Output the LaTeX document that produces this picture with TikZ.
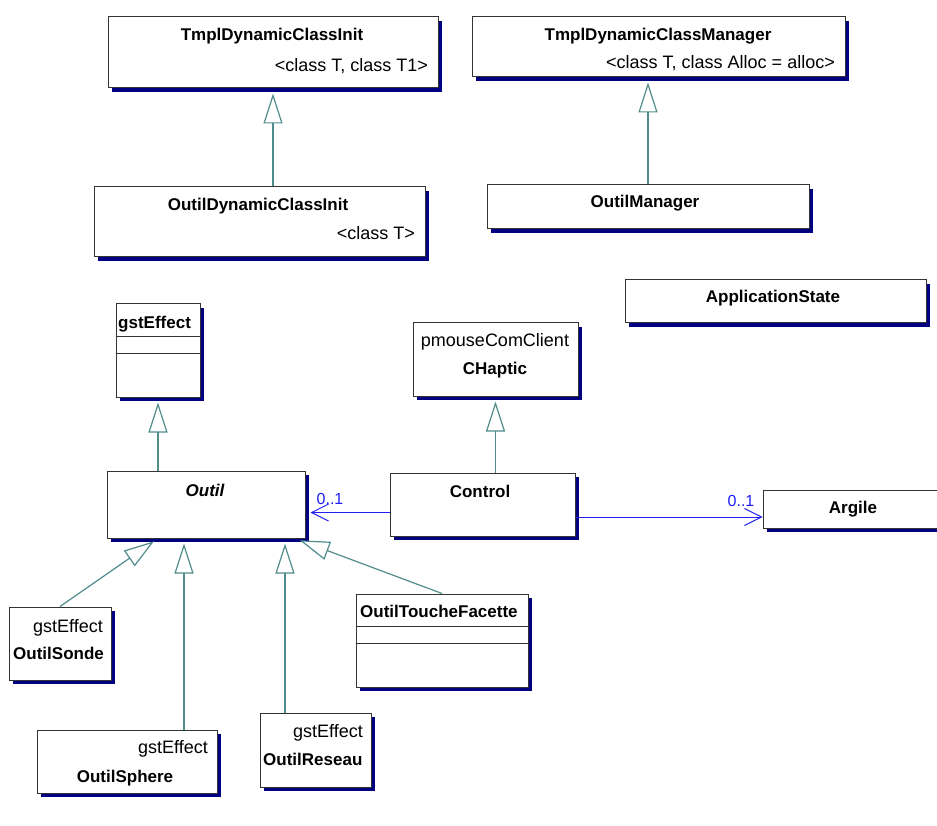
\documentclass[tikz,border=0pt]{standalone}
\usepackage{fontspec}
\setmainfont{Liberation Sans}
\usepackage{xcolor}
\definecolor{boxline}{HTML}{333333}
\definecolor{shade}{HTML}{000080}
\definecolor{genline}{HTML}{508C8C}
\definecolor{assocline}{HTML}{1E1EF5}
\usepackage{tikz}
\usetikzlibrary{arrows.meta, shadows}

\begin{document}
\begin{tikzpicture}[x=1pt, y=-1pt,
  cls/.style={draw=boxline, line width=1pt, fill=white, rectangle, inner sep=0pt,
    drop shadow={shadow xshift=4pt, shadow yshift=-4pt, fill=shade, opacity=1}},
  clsname/.style={anchor=base, inner sep=0pt, font=\fontsize{17}{20}\selectfont\bfseries},
  tpl/.style={anchor=base east, inner sep=0pt, font=\fontsize{18}{21}\selectfont},
  gen/.style={draw=genline, line width=1.2pt, shorten >=5pt,
    -{Triangle[length=30pt, width=19pt, fill=white]}},
  assoc/.style={draw=assocline, line width=1pt, -{Straight Barb[length=17pt, width=17pt]}},
  mult/.style={anchor=base, inner sep=0pt, text=assocline, font=\fontsize{16}{19}\selectfont}]
  \useasboundingbox (0,0) rectangle (937,826);

  % template classes
  \node[cls, minimum width=330pt, minimum height=71pt] (tmplinit) at (273,52.5) {};
  \node[cls, minimum width=373pt, minimum height=60pt] (tmplmgr) at (658.5,47) {};
  \node[cls, minimum width=331pt, minimum height=70pt] (outilinit) at (259.5,222) {};
  \node[cls, minimum width=322pt, minimum height=44pt] (outilmgr) at (648,207) {};
  \node[cls, minimum width=301pt, minimum height=43pt] (appstate) at (775.5,301.5) {};

  % middle row
  \node[cls, minimum width=84pt, minimum height=93pt] (gst) at (158,350.5) {};
  \node[cls, minimum width=165pt, minimum height=73pt] (chaptic) at (495.5,359.5) {};
  \node[cls, minimum width=198pt, minimum height=67pt] (outil) at (206,504.5) {};
  \node[cls, minimum width=185pt, minimum height=63pt] (control) at (482.5,504.5) {};
  \node[cls, minimum width=182pt, minimum height=38pt] (argile) at (854,509) {};

  % outils
  \node[cls, minimum width=102pt, minimum height=73pt] (sonde) at (60,643.5) {};
  \node[cls, minimum width=180pt, minimum height=63pt] (sphere) at (127,761.5) {};
  \node[cls, minimum width=111pt, minimum height=74pt] (reseau) at (315.5,750) {};
  \node[cls, minimum width=172pt, minimum height=93pt] (facette) at (442,640.5) {};

  % compartiments
  \foreach \cname in {gst, facette}
    \foreach \d in {33,50}
      \draw[boxline, line width=1pt]
        ([yshift=-\d pt]\cname.north west) -- ([yshift=-\d pt]\cname.north east);

  % textes
  \node[clsname] (tmplinit-n) at (272,41) {TmplDynamicClassInit};
  \node[tpl] (tmplinit-t) at (428,71.5) {<class T, class T1>};
  \node[clsname] (tmplmgr-n) at (658,41) {TmplDynamicClassManager};
  \node[tpl] (tmplmgr-t) at (835,68.5) {<class T, class Alloc = alloc>};
  \node[clsname] (outilinit-n) at (258,211) {OutilDynamicClassInit};
  \node[tpl] (outilinit-t) at (415,239.5) {<class T>};
  \node[clsname] (outilmgr-n) at (645,208) {OutilManager};
  \node[clsname] (appstate-n) at (773,302) {ApplicationState};
  \node[clsname, anchor=base west] (gst-n) at (118,328) {gstEffect};
  \node[tpl, anchor=base] (chaptic-s) at (495,346.5) {pmouseComClient};
  \node[clsname] (chaptic-n) at (495,374) {CHaptic};
  \node[clsname, font=\fontsize{17}{20}\selectfont\bfseries\itshape]
    (outil-n) at (205,496) {Outil};
  \node[clsname] (control-n) at (480,497) {Control};
  \node[clsname] (argile-n) at (853,513) {Argile};
  \node[tpl] (sonde-s) at (103,632.5) {gstEffect};
  \node[clsname, anchor=base west] (sonde-n) at (13,659) {OutilSonde};
  \node[tpl] (sphere-s) at (208,753.5) {gstEffect};
  \node[clsname] (sphere-n) at (125,782) {OutilSphere};
  \node[tpl] (reseau-s) at (363,737.5) {gstEffect};
  \node[clsname, anchor=base west] (reseau-n) at (263,765) {OutilReseau};
  \node[clsname, anchor=base west] (facette-n) at (360,617) {OutilToucheFacette};

  % heritage
  \draw[gen] (outilinit.north -| tmplinit.south) -- (tmplinit.south);
  \draw[gen] (outilmgr.north) -- (outilmgr.north |- tmplmgr.south);
  \draw[gen] (outil.north -| gst.south) -- (gst.south);
  \draw[gen] (control.north -| chaptic.south) -- (chaptic.south);
  \draw[gen] (sonde.north) -- ([xshift=-48pt]outil.south);
  \draw[gen] ([xshift=57pt]sphere.north) -- ([xshift=57pt]sphere.north |- outil.south);
  \draw[gen] ([xshift=-30.5pt]reseau.north) -- ([xshift=-30.5pt]reseau.north |- outil.south);
  \draw[gen] (facette.north) -- ([xshift=89pt]outil.south);

  % associations
  \draw[assoc, shorten >=5pt]
    ([yshift=-8pt]control.west) -- ([yshift=-8pt]control.west -| outil.east);
  \node[mult] (m-outil) at (330,504) {0..1};
  \draw[assoc] ([yshift=-8pt]argile.west -| control.east) -- ([yshift=-8pt]argile.west);
  \node[mult] (m-argile) at (741,506) {0..1};
\end{tikzpicture}
\end{document}
